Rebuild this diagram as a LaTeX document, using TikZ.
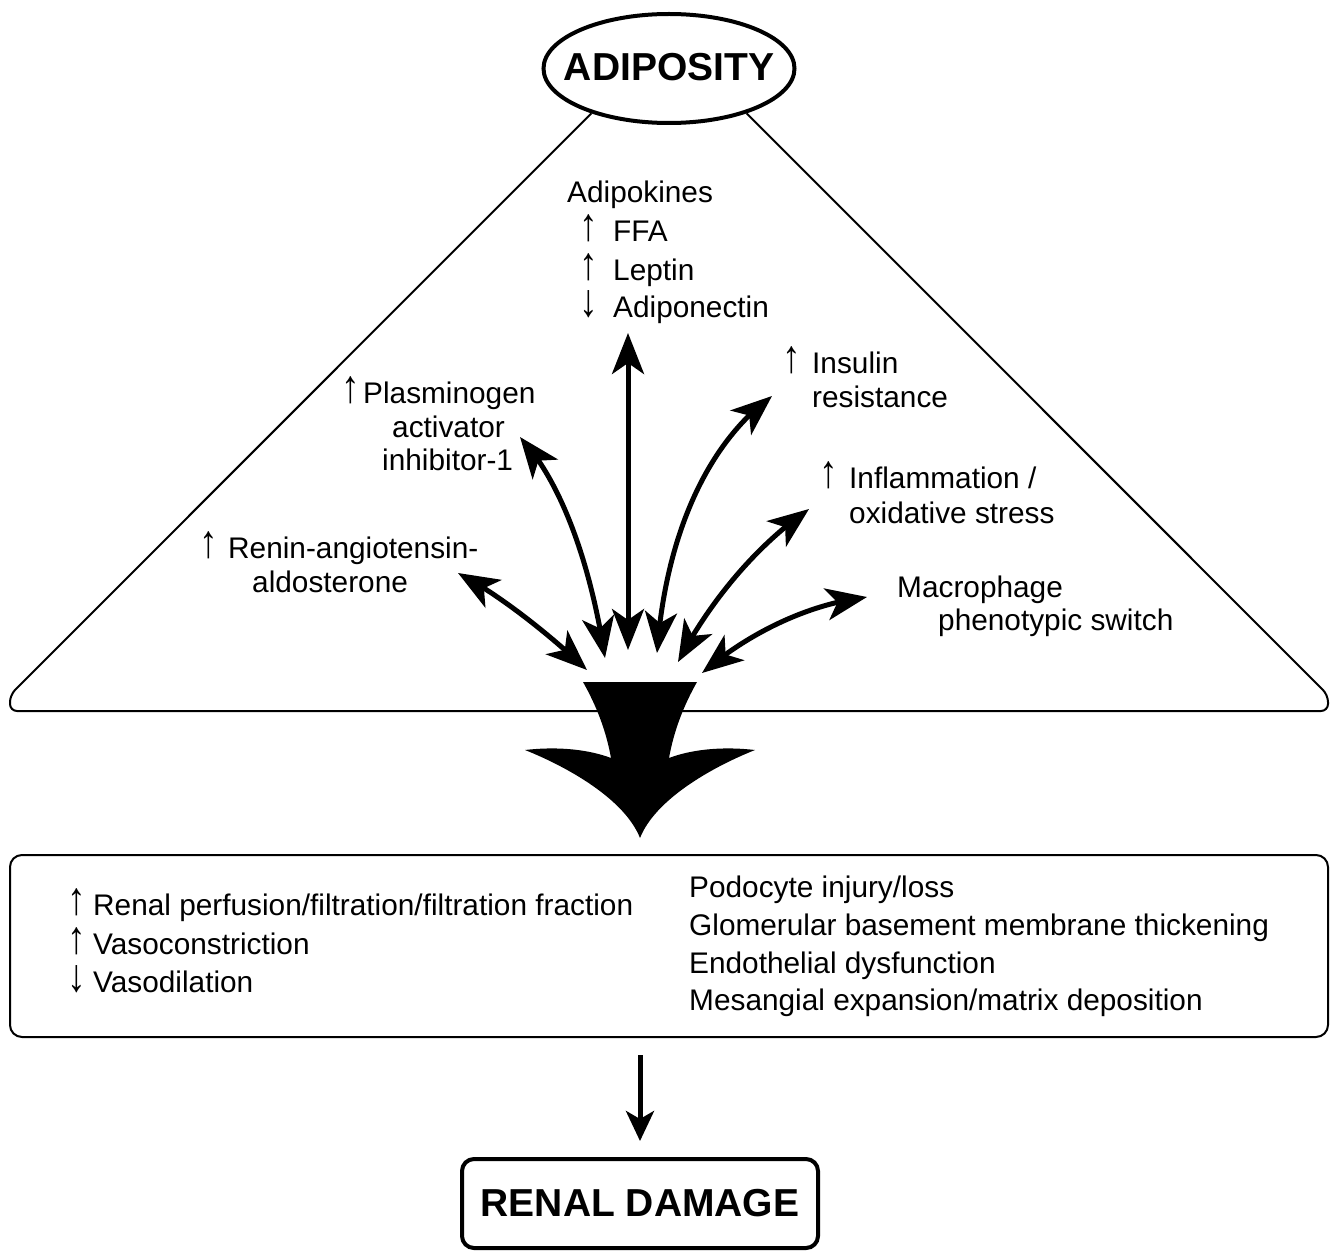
\documentclass[tikz,border=0pt]{standalone}
\usepackage{fontspec}
\setmainfont{Liberation Sans}
\usetikzlibrary{arrows.meta,bending,shapes.geometric}
\newcommand{\upa}{\raisebox{1pt}{\scalebox{1.25}[1.55]{↑}}}
\newcommand{\dna}{\raisebox{1pt}{\scalebox{1.25}[1.55]{↓}}}
\begin{document}
\begin{tikzpicture}[x=1pt,y=-1pt,
  txt/.style={inner sep=0pt, anchor=base west, font=\fontsize{29.8}{35}\selectfont},
  arr/.style={inner sep=0pt, anchor=base, font=\fontsize{29.8}{35}\selectfont},
  big/.style={inner sep=0pt, font=\bfseries\fontsize{39}{45}\selectfont},
  dbl/.style={line width=5pt, {Stealth[length=41pt,width=32pt,inset=11pt,flex]}-{Stealth[length=41pt,width=32pt,inset=11pt,flex]}}
]
\useasboundingbox (0,0) rectangle (1337,1252);

% Adiposity ellipse
\node[draw, line width=4pt, ellipse, minimum width=251pt, minimum height=109pt, inner sep=0pt] (adi) at (669,68.5) {};
\node[big] (adit) at (669,67.5) {ADIPOSITY};

% triangle
\draw[line width=2pt, rounded corners=7pt] (adi.210) -- (10,695) -- (10,711) -- (1328,711) -- (1328,695) -- (adi.330);

% burst shape
\fill[black] (583,682) -- (697,682)
  .. controls (684,705) and (674,730) .. (669,758)
  .. controls (690,750) and (720,746) .. (755,750)
  .. controls (710,768) and (655,800) .. (640,838)
  .. controls (625,800) and (570,768) .. (525,750)
  .. controls (560,746) and (590,750) .. (611,758)
  .. controls (606,730) and (596,705) .. (583,682) -- cycle;

% arrow end points
\coordinate (v0) at (628,650); \coordinate (v1) at (628,333);
\coordinate (p0) at (605,658); \coordinate (p1) at (520,437);
\coordinate (i0) at (657,653); \coordinate (i1) at (772,396);
\coordinate (f0) at (678,662); \coordinate (f1) at (809,509);
\coordinate (r0) at (587,670); \coordinate (r1) at (458,573);
\coordinate (m0) at (702,673); \coordinate (m1) at (867,597);

\draw[dbl] (v0) -- (v1);
\draw[dbl] (p0) .. controls (590,560) and (560,480) .. (p1);
\draw[dbl] (i0) .. controls (665,540) and (705,445) .. (i1);
\draw[dbl] (f0) .. controls (705,610) and (750,550) .. (f1);
\draw[dbl] (r0) .. controls (550,635) and (500,595) .. (r1);
\draw[dbl] (m0) .. controls (740,640) and (800,605) .. (m1);

% labels top
\node[txt] (adk) at (567,202) {Adipokines};
\node[arr] (a1) at (589,241) {\upa};
\node[txt] (ffa) at (613,241) {FFA};
\node[arr] (a2) at (589,280) {\upa};
\node[txt] (lep) at (613,280) {Leptin};
\node[arr] (a3) at (589,317) {\dna};
\node[txt] (adn) at (613,317) {Adiponectin};

\node[arr] (a4) at (351,403) {\upa};
\node[txt] (pl1) at (363,403) {Plasminogen};
\node[txt] (pl2) at (392,437) {activator};
\node[txt] (pl3) at (382,470) {inhibitor-1};

\node[arr] (a5) at (209,558) {\upa};
\node[txt] (rn1) at (228,558) {Renin-angiotensin-};
\node[txt] (rn2) at (252,592) {aldosterone};

\node[arr] (a6) at (792,373) {\upa};
\node[txt] (in1) at (812,373) {Insulin};
\node[txt] (in2) at (812,407) {resistance};

\node[arr] (a7) at (829,488) {\upa};
\node[txt] (im1) at (849,488) {Inflammation /};
\node[txt] (im2) at (849,523) {oxidative stress};

\node[txt] (mc1) at (897,597) {Macrophage};
\node[txt] (mc2) at (938,630) {phenotypic switch};

% middle box
\node[draw, line width=2pt, rounded corners=12pt, minimum width=1318pt, minimum height=182pt, inner sep=0pt] (box) at (669,946) {};
\node[arr] (b1) at (77,915) {\upa};
\node[txt] (bt1) at (93,915) {Renal perfusion/filtration/filtration fraction};
\node[arr] (b2) at (77,954) {\upa};
\node[txt] (bt2) at (93,954) {Vasoconstriction};
\node[arr] (b3) at (77,992) {\dna};
\node[txt] (bt3) at (93,992) {Vasodilation};
\node[txt] (c1) at (689,897) {Podocyte injury/loss};
\node[txt] (c2) at (689,935) {Glomerular basement membrane thickening};
\node[txt] (c3) at (689,973) {Endothelial dysfunction};
\node[txt] (c4) at (689,1010) {Mesangial expansion/matrix deposition};

% renal damage
\node[draw, line width=4pt, rounded corners=12pt, minimum width=356pt, minimum height=89pt, big] (rd) at (640,1203.5) {RENAL DAMAGE};
\coordinate (d0) at (640,1055); \coordinate (d1) at (640,1141);
\draw[line width=5pt, -{Stealth[length=30pt,width=28pt,inset=8pt]}] (d0) -- (d1);
\end{tikzpicture}
\end{document}
